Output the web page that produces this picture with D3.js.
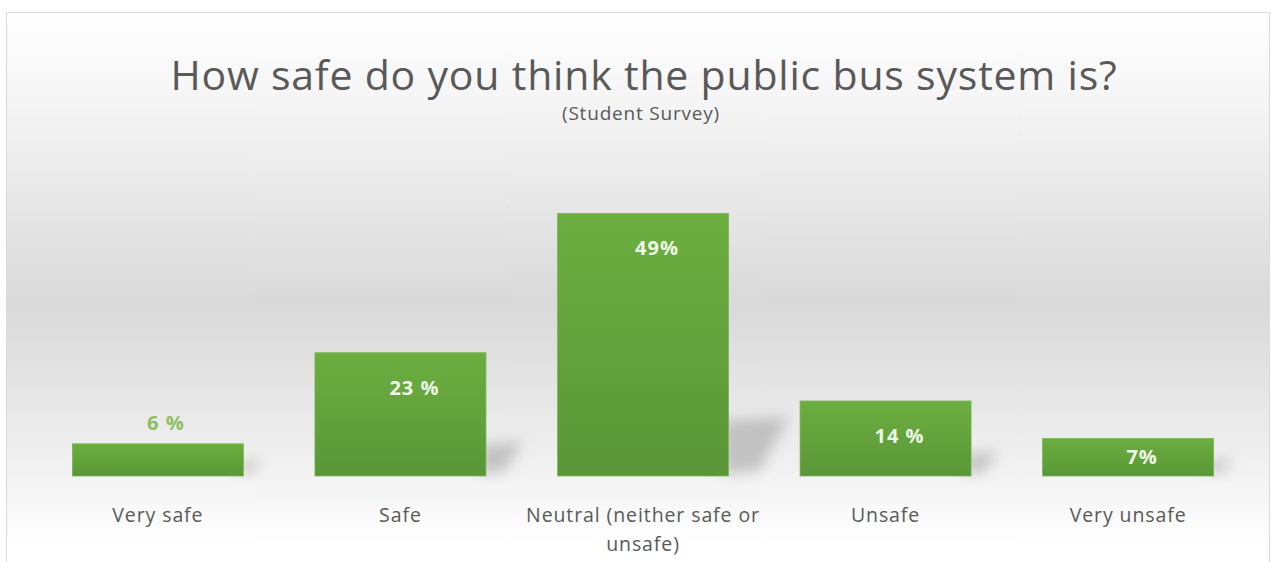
<!DOCTYPE html>
<html>
<head>
<meta charset="utf-8">
<script src="https://cdn.jsdelivr.net/npm/d3@7"></script>
<style>
  body { margin: 0; background: #fff; }
  svg { display: block; font-family: "Open Sans", Lato, sans-serif; }
</style>
</head>
<body>
<div id="chart"></div>
<script>
let categories = ["Very safe", "Safe", "Neutral (neither safe or unsafe)", "Unsafe", "Very unsafe"];
let values = [6, 23, 49, 14, 7];
let valueLabels = ["6 %", "23 %", "49%", "14 %", "7%"];
let titleText = "How safe do you think the public bus system is?";
let subtitleText = "(Student Survey)";

let width = 1276, height = 562;

let svg = d3.select("#chart").append("svg")
    .attr("width", width)
    .attr("height", height);

let defs = svg.append("defs");

// chart area background
let bg = defs.append("linearGradient")
    .attr("id", "bg")
    .attr("x1", 0).attr("y1", 0).attr("x2", 0).attr("y2", 1);
bg.append("stop").attr("offset", "0%").attr("stop-color", "#ffffff");
bg.append("stop").attr("offset", "20%").attr("stop-color", "#f2f2f2");
bg.append("stop").attr("offset", "52%").attr("stop-color", "#d9d9d9");
bg.append("stop").attr("offset", "78%").attr("stop-color", "#eeeeee");
bg.append("stop").attr("offset", "95%").attr("stop-color", "#ffffff");

let barGrad = defs.append("linearGradient")
    .attr("id", "barGrad")
    .attr("x1", 0).attr("y1", 0).attr("x2", 0).attr("y2", 1);
barGrad.append("stop").attr("offset", "0%").attr("stop-color", "#6cae40");
barGrad.append("stop").attr("offset", "100%").attr("stop-color", "#5a9637");

defs.append("filter")
    .attr("id", "blur")
    .attr("x", "-50%").attr("y", "-50%").attr("width", "200%").attr("height", "200%")
    .append("feGaussianBlur")
    .attr("stdDeviation", 7);

svg.append("rect")
    .attr("x", 6.5).attr("y", 12.5)
    .attr("width", 1263).attr("height", 560)
    .attr("fill", "url(#bg)")
    .attr("stroke", "#d9d9d9");

// title
svg.append("text")
    .attr("x", 644).attr("y", 90)
    .attr("text-anchor", "middle")
    .attr("fill", "#595959")
    .style("font-size", "41px")
    .style("letter-spacing", "0.8px")
    .text(titleText);

svg.append("text")
    .attr("x", 641).attr("y", 120)
    .attr("text-anchor", "middle")
    .attr("fill", "#595959")
    .style("font-size", "19px")
    .style("letter-spacing", "0.8px")
    .text(subtitleText);

let xScale = d3.scaleBand()
    .domain(categories)
    .range([36, 1250])
    .paddingInner(0.295)
    .paddingOuter(0.15);

let yScale = d3.scaleLinear()
    .domain([0, 50])
    .range([476, 208]);

let plot = svg.append("g");

// shadows
plot.selectAll(".shadow")
    .data(values)
    .enter().append("path")
    .attr("class", "shadow")
    .attr("fill", "#8c8c8c")
    .attr("opacity", 0.45)
    .attr("filter", "url(#blur)")
    .attr("d", (d, i) => {
        let x1 = xScale(categories[i]) + xScale.bandwidth();
        let y0 = yScale(0);
        let h = y0 - yScale(d);
        let dx = Math.min(60, 10 + h * 0.22);
        let dy = Math.min(55, h * 0.2 + 6);
        return `M${x1 - 6},${y0 - 2} L${x1 - 6},${y0 - dy} L${x1 + dx},${y0 - dy - 4} L${x1 + dx * 0.5},${y0 - 4} Z`;
    });

plot.selectAll(".bar")
    .data(values)
    .enter().append("rect")
    .attr("class", "bar")
    .attr("x", (d, i) => xScale(categories[i]))
    .attr("y", d => yScale(d))
    .attr("width", xScale.bandwidth())
    .attr("height", d => yScale(0) - yScale(d))
    .attr("fill", "url(#barGrad)")
    .attr("stroke", "#7bb653")
    .attr("stroke-width", 0.8);

// value labels
plot.selectAll(".val")
    .data(values)
    .enter().append("text")
    .attr("class", "val")
    .attr("x", (d, i) => xScale(categories[i]) + xScale.bandwidth() / 2 + (i === 0 ? 8 : 14))
    .attr("y", (d, i) => {
        let top = yScale(d);
        if (i === 0) return top - 14;
        let h = yScale(0) - top;
        return top + Math.min(42, h / 2 + 7);
    })
    .attr("text-anchor", "middle")
    .attr("fill", (d, i) => i === 0 ? "#8cbf62" : "#eef7e6")
    .style("font-size", "20px")
    .style("font-weight", "bold")
    .style("letter-spacing", "1px")
    .text((d, i) => valueLabels[i]);

// category labels
let cats = plot.selectAll(".cat")
    .data(categories)
    .enter().append("text")
    .attr("class", "cat")
    .attr("x", d => xScale(d) + xScale.bandwidth() / 2)
    .attr("y", 522)
    .attr("text-anchor", "middle")
    .attr("fill", "#595959")
    .style("font-size", "19.5px")
    .style("letter-spacing", "0.9px");

cats.each(function(d) {
    let t = d3.select(this);
    let lines = d.length > 20 ? ["Neutral (neither safe or", "unsafe)"] : [d];
    lines.forEach((l, k) => {
        t.append("tspan")
            .attr("x", xScale(d) + xScale.bandwidth() / 2)
            .attr("dy", k === 0 ? 0 : 29)
            .text(l);
    });
});
</script>
</body>
</html>
